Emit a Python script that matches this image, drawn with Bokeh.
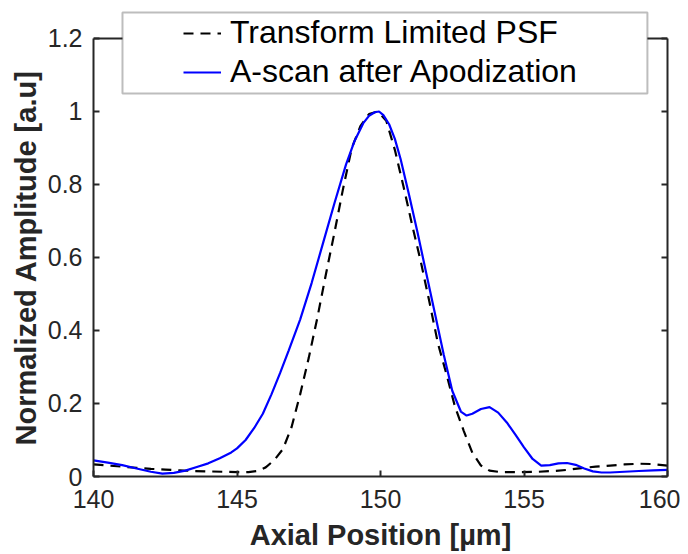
from bokeh.plotting import figure
from bokeh.models import (LinearAxis, FixedTicker, Legend, LegendItem, BoxAnnotation, Range1d,
                          Span, CustomJSTickFormatter, Title)
from bokeh.embed import file_html
from bokeh.resources import INLINE

# ---- data ----
psf_x = [140.0, 140.5, 141.0, 141.5, 142.0, 142.5, 143.0, 143.5, 144.0, 144.5, 145.0, 145.4,
         145.7, 146.0, 146.3, 146.6, 146.9, 147.2, 147.5, 147.8, 148.1, 148.4, 148.7, 149.0,
         149.3, 149.6, 149.9, 150.2, 150.5, 150.8, 151.1, 151.4, 151.7, 152.0, 152.3, 152.6,
         152.9, 153.2, 153.5, 153.8, 154.2, 154.8, 155.5, 156.0, 156.5, 157.0, 157.5, 158.0,
         158.5, 159.0, 159.5, 160.0]
psf_y = [0.033, 0.030, 0.027, 0.024, 0.021, 0.019, 0.017, 0.015, 0.014, 0.013, 0.012, 0.012,
         0.015, 0.025, 0.045, 0.075, 0.135, 0.225, 0.325, 0.435, 0.555, 0.67, 0.79, 0.90,
         0.96, 0.993, 1.0, 0.975, 0.895, 0.795, 0.69, 0.59, 0.48, 0.365, 0.28, 0.19,
         0.125, 0.065, 0.03, 0.016, 0.012, 0.012, 0.013, 0.015, 0.018, 0.023, 0.027, 0.030,
         0.033, 0.035, 0.034, 0.030]

ascan_x = [140.0, 140.5, 141.0, 141.5, 142.0, 142.4, 142.8, 143.2, 143.6, 144.0, 144.4, 144.8,
           145.0, 145.3, 145.6, 145.9, 146.2, 146.5, 146.8, 147.2, 147.6, 148.0, 148.4, 148.8,
           149.1, 149.4, 149.6, 149.8, 149.95, 150.1, 150.3, 150.5, 150.7, 151.0, 151.3, 151.6,
           151.9, 152.2, 152.5, 152.8, 153.0, 153.2, 153.5, 153.8, 154.1, 154.4, 154.7, 155.0,
           155.3, 155.6, 155.9, 156.2, 156.5, 156.8, 157.1, 157.4, 157.7, 158.0, 158.5, 159.0,
           159.5, 160.0]
ascan_y = [0.044, 0.038, 0.031, 0.022, 0.013, 0.008, 0.010, 0.016, 0.026, 0.036, 0.050, 0.066,
           0.077, 0.100, 0.133, 0.172, 0.225, 0.283, 0.345, 0.43, 0.53, 0.64, 0.75, 0.855,
           0.92, 0.968, 0.988, 0.998, 1.0, 0.99, 0.965, 0.925, 0.87, 0.77, 0.665, 0.555,
           0.445, 0.335, 0.235, 0.178, 0.167, 0.172, 0.185, 0.19, 0.175, 0.148, 0.115, 0.08,
           0.048, 0.030, 0.031, 0.036, 0.037, 0.032, 0.022, 0.014, 0.011, 0.011, 0.013, 0.015,
           0.017, 0.018]

x_ticks = [140, 145, 150, 155, 160]
x_tick_labels = ["140", "145", "150", "155", "160"]
y_ticks = [0, 0.2, 0.4, 0.6, 0.8, 1.0, 1.2]
y_tick_labels = ["0", "0.2", "0.4", "0.6", "0.8", "1", "1.2"]

series_names = ["Transform Limited PSF", "A-scan after Apodization"]
x_label = "Axial Position [\u00b5m]"
y_label = "Normalized Amplitude [a.u]"

FONT = "Liberation Sans"
AX = "#262626"

Y_MIN, Y_MAX = 0.0, 1.2
X_MIN, X_MAX = 140, 160
# frame extends above 1.2 so that the legend box (which overlaps the top edge) is not clipped
Y_VIEW_TOP = 1.2767

p = figure(width=680, height=554, output_backend="svg", toolbar_location=None,
           x_range=Range1d(X_MIN, X_MAX), y_range=Range1d(Y_MIN, Y_VIEW_TOP),
           x_axis_location=None, y_axis_location=None,
           min_border_left=93, min_border_right=13, min_border_top=10, min_border_bottom=78)
p.outline_line_color = None
p.xgrid.visible = False
p.ygrid.visible = False
p.background_fill_color = "white"
p.border_fill_color = "white"

def style_axis(ax, ticks, labels):
    ax.ticker = FixedTicker(ticks=ticks)
    ax.major_label_overrides = {t: l for t, l in zip(ticks, labels)}
    ax.axis_line_color = AX
    ax.axis_line_width = 2
    ax.major_tick_line_color = AX
    ax.major_tick_line_width = 2
    ax.major_tick_in = 6
    ax.major_tick_out = 0
    ax.minor_tick_line_color = None
    ax.major_label_text_font = FONT
    ax.major_label_text_color = AX
    ax.major_label_text_font_size = "25px"
    ax.axis_label_text_font = FONT
    ax.axis_label_text_font_style = "bold"
    ax.axis_label_text_font_size = "29px"
    ax.axis_label_text_color = AX

xb = LinearAxis(axis_label=x_label)
style_axis(xb, x_ticks, x_tick_labels)
xb.major_label_standoff = 13
xb.axis_label_standoff = 8
p.add_layout(xb, "below")

yl = LinearAxis(bounds=(Y_MIN, Y_MAX))
style_axis(yl, y_ticks, y_tick_labels)
yl.major_label_standoff = 11
p.add_layout(yl, "left")

# y-axis title, centred on the 0..1.2 box (the frame itself reaches higher)
ytitle = Title(text=y_label, align="left", offset=31, standoff=6,
               text_font=FONT, text_font_style="bold", text_font_size="29px",
               text_color=AX)
p.add_layout(ytitle, "left")

yr = LinearAxis(bounds=(Y_MIN, Y_MAX))
style_axis(yr, y_ticks, y_tick_labels)
yr.formatter = CustomJSTickFormatter(code="return ''")
yr.major_label_overrides = {}
yr.major_label_standoff = 0
p.add_layout(yr, "right")

# top edge of the axes box
p.add_layout(Span(location=Y_MAX, dimension="width", line_color=AX, line_width=2))

r_psf = p.line(psf_x, psf_y, line_color="black", line_width=2.2, line_dash="10 7")
r_ascan = p.line(ascan_x, ascan_y, line_color="#0000ff", line_width=2.2)

# legend frame (white box with border, overlapping the top edge of the axes)
box = BoxAnnotation(left=141.01, right=159.30, bottom=1.049, top=1.271,
                    fill_color="white", fill_alpha=1.0, line_color=AX, line_width=2,
                    level="annotation")
p.add_layout(box)

legend = Legend(items=[LegendItem(label=series_names[0], renderers=[r_psf]),
                       LegendItem(label=series_names[1], renderers=[r_ascan])],
                location=(90, 386), orientation="vertical",
                padding=0, spacing=2, margin=0,
                glyph_width=38, glyph_height=36, label_height=36, label_standoff=9,
                label_text_font=FONT, label_text_font_size="32px", label_text_color="black",
                background_fill_alpha=0, border_line_color=None)
p.add_layout(legend, "center")

open("out.html", "w").write(file_html(p, INLINE))
